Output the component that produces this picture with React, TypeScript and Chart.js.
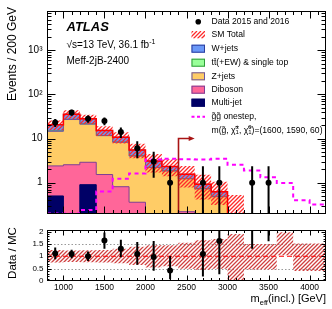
import React, { useEffect, useRef } from 'react';
import { Chart, registerables } from 'chart.js';

Chart.register(...registerables);

// ---------------- data ----------------
const binEdges = [800, 1000, 1200, 1400, 1600, 1800, 2000, 2200, 2400, 2600, 2800, 3000, 3200, 3400, 3600, 3800, 4000, 4200];

const dataCounts = [23, 39, 28, 25, 14, 6, 3, 1, 0, 1, 1, 0, 1, 1, 0, 0, 0];
const dataErrDown = [4.8, 6.2, 5.3, 5.0, 3.7, 2.4, 1.7, 0.83, 0, 0.83, 0.83, 0, 0.83, 0.83, 0, 0, 0];
const dataErrUp = [4.8, 6.2, 5.3, 5.0, 3.8, 2.7, 2.0, 1.36, 0, 1.36, 1.36, 0, 1.36, 1.36, 0, 0, 0];

const wJets = [5.8, 8.4, 6.6, 3.6, 2.4, 1.45, 0.88, 0.48, 0.32, 0.19, 0.13, 0, 0, 0, 0, 0, 0];
const ttbarSingleTop = [0.2, 0.3, 0.2, 0.1, 0.1, 0.05, 0.02, 0.02, 0.01, 0.01, 0.01, 0, 0, 0, 0, 0, 0];
const zJets = [12.2, 24.45, 18.3, 10.1, 7.4, 3.64, 2.1, 1.73, 1.0, 0.67, 0.48, 0, 0, 0, 0, 0, 0];
const diboson = [1.9, 2.55, 2.0, 1.53, 0.81, 0.36, 0.1, 0.1, 0.22, 0.05, 0, 0, 0, 0, 0, 0, 0];
const multiJet = [0.5, 0, 0.9, 0, 0, 0, 0, 0, 0, 0, 0, 0, 0, 0, 0, 0, 0];
const smTotal = [20.6, 35.7, 28.0, 15.3, 10.7, 5.5, 3.1, 2.33, 1.55, 0.92, 0.62, 0.18, 0.13, 0.106, 0.08, 0.06, 0.05];

const ratioBandLow = [0.75, 0.77, 0.76, 0.75, 0.72, 0.65, 0.55, 0.6, 0.5, 0.45, 0.5, 0.03, 0.47, 0.47, 1.04, 0.4, 0.4];
const ratioBandHigh = [1.25, 1.23, 1.24, 1.25, 1.3, 1.38, 1.45, 1.45, 1.55, 1.65, 1.7, 1.9, 1.5, 1.5, 1.97, 1.52, 1.52];
const mainBandHigh = [1.25, 1.23, 1.24, 1.25, 1.3, 1.38, 1.45, 1.45, 1.55, 1.65, 1.7, 2.9, 1.5, 1.5, 1.97, 1.52, 1.52];

const signalOnestep = [0.2, 0.2, 0.24, 0.63, 1.22, 1.61, 3.36, 3.5, 3.4, 3.36, 3.5, 2.54, 1.89, 1.32, 0.98, 0.4, 0.32];

const xTickValues = [1000, 1500, 2000, 2500, 3000, 3500, 4000];
const yMainTickValues = [1, 10, 100, 1000];
const yMainTickLabels = ['1', '10', '10\u00B2', '10\u00B3'];
const yRatioTickValues = [0, 0.5, 1, 1.5, 2];
const yRatioTickLabels = ['0', '0.5', '1', '1.5', '2'];

const cutValue = 2400;
const arrowEnd = 2600;
const arrowHeight = 10.5;

// ---------------- style ----------------
const FONT = '"Liberation Sans", Arial, Helvetica, sans-serif';
const C = {
  w: '#6a98f8', wB: '#2c3d9c',
  tt: '#99ff99', ttB: '#2f9a3a',
  z: '#ffcc66', zB: '#6b56a0',
  db: '#ff6699', dbB: '#7d3f96',
  mj: '#000066', mjB: '#000066',
  sm: '#ff0000', sig: '#ff00ff', arrow: '#a81414',
  hatchMain: '#ff2a2a', hatchRatio: '#d04040',
};
const LOG_FLOOR = 1e-3;
const X_MIN = binEdges[0];
const X_MAX = binEdges[binEdges.length - 1];
const Y_MIN = 0.2;
const Y_MAX = 8000;

function stepPoints(vals: number[], floor = 0) {
  const pts = vals.map((v, i) => ({ x: binEdges[i], y: Math.max(v, floor) }));
  pts.push({ x: binEdges[vals.length], y: Math.max(vals[vals.length - 1], floor) });
  return pts;
}
const centers = binEdges.slice(0, -1).map((e, i) => (e + binEdges[i + 1]) / 2);

// diagonal '/' hatch lines inside the current clip
function strokeHatch(ctx: CanvasRenderingContext2D, l: number, t: number, r: number, b: number, color: string, spacing: number) {
  ctx.strokeStyle = color; ctx.lineWidth = 1.3; ctx.setLineDash([]);
  ctx.beginPath();
  for (let c = Math.floor((l + t) / spacing) * spacing; c <= r + b + spacing; c += spacing) {
    ctx.moveTo(c - b, b); ctx.lineTo(c - t, t);
  }
  ctx.stroke();
}

function drawHatchBand(chart: any, low: number[], high: number[], color: string, spacing: number) {
  const { ctx, chartArea: a } = chart;
  const xs = chart.scales.x, ys = chart.scales.y;
  ctx.save();
  ctx.beginPath(); ctx.rect(a.left, a.top, a.width, a.height); ctx.clip();
  ctx.beginPath();
  for (let i = 0; i < low.length; i++) {
    const x0 = xs.getPixelForValue(binEdges[i]), x1 = xs.getPixelForValue(binEdges[i + 1]);
    const yT = high[i] > 0 ? Math.max(ys.getPixelForValue(high[i]), a.top - 5) : a.bottom + 5;
    const yB = low[i] > 0 ? Math.min(ys.getPixelForValue(low[i]), a.bottom + 5) : a.bottom + 5;
    if (yB > yT) ctx.rect(x0, yT, x1 - x0, yB - yT);
  }
  ctx.clip();
  strokeHatch(ctx, a.left, a.top, a.right, a.bottom, color, spacing);
  ctx.restore();
}

function xTickList(major: number, minor: number): [number, number][] {
  const out: [number, number][] = [];
  for (let v = X_MIN; v <= X_MAX; v += 100) out.push([v, v % 500 === 0 ? major : minor]);
  return out;
}

function drawFrameTicks(chart: any, xTicks: [number, number][], yTicks: [number, number][]) {
  const { ctx, chartArea: a } = chart;
  const xs = chart.scales.x, ys = chart.scales.y;
  const L = Math.round(a.left) + 0.5, R = Math.round(a.right) - 0.5;
  const T = Math.round(a.top) + 0.5, B = Math.round(a.bottom) - 0.5;
  ctx.save();
  ctx.strokeStyle = '#000'; ctx.lineWidth = 1; ctx.setLineDash([]);
  ctx.beginPath();
  for (const [v, len] of xTicks) {
    const p = Math.round(xs.getPixelForValue(v)) + 0.5;
    if (p < L - 0.1 || p > R + 0.1) continue;
    ctx.moveTo(p, B); ctx.lineTo(p, B - len);
    ctx.moveTo(p, T); ctx.lineTo(p, T + len);
  }
  for (const [v, len] of yTicks) {
    const p = Math.round(ys.getPixelForValue(v)) + 0.5;
    if (p < T - 0.1 || p > B + 0.1) continue;
    ctx.moveTo(L, p); ctx.lineTo(L + len, p);
    ctx.moveTo(R, p); ctx.lineTo(R - len, p);
  }
  ctx.stroke();
  ctx.strokeRect(L, T, R - L, B - T);
  ctx.restore();
}

function drawErrorBars(chart: any, bars: { x: number; lo: number; hi: number }[]) {
  const { ctx, chartArea: a } = chart;
  const xs = chart.scales.x, ys = chart.scales.y;
  ctx.save();
  ctx.beginPath(); ctx.rect(a.left, a.top, a.width, a.height); ctx.clip();
  ctx.strokeStyle = '#000'; ctx.lineWidth = 2;
  for (const b of bars) {
    const px = xs.getPixelForValue(b.x);
    const y1 = b.lo > 0 ? ys.getPixelForValue(b.lo) : a.bottom + 5;
    const y2 = ys.getPixelForValue(b.hi);
    ctx.beginPath(); ctx.moveTo(px, Math.min(y1, a.bottom + 5)); ctx.lineTo(px, Math.max(y2, a.top - 5)); ctx.stroke();
  }
  ctx.restore();
}

type Run = { t?: string; size: number; style?: string; dy?: number; stack?: [string, string] };
function drawRuns(ctx: CanvasRenderingContext2D, x: number, y: number, runs: Run[]) {
  let cx = x;
  for (const r of runs) {
    ctx.font = `${r.style ?? ''} ${r.size}px ${FONT}`;
    if (r.stack) {
      const w1 = ctx.measureText(r.stack[0]).width, w2 = ctx.measureText(r.stack[1]).width;
      ctx.fillText(r.stack[0], cx, y - r.size * 0.55);
      ctx.fillText(r.stack[1], cx, y + r.size * 0.35);
      cx += Math.max(w1, w2);
    } else {
      ctx.fillText(r.t!, cx, y + (r.dy ?? 0));
      cx += ctx.measureText(r.t!).width;
    }
  }
}

function drawLegend(ctx: CanvasRenderingContext2D) {
  const tx = 211.5, bx = 191.5, bw = 13.5, bh = 8;
  const fs = 8.6;
  ctx.save();
  ctx.textBaseline = 'middle'; ctx.fillStyle = '#000';
  ctx.font = `${fs}px ${FONT}`;
  // Data
  ctx.beginPath(); ctx.arc(bx + bw / 2, 21.7, 2.8, 0, Math.PI * 2); ctx.fill();
  ctx.fillText('Data 2015 and 2016', tx, 21.7);
  // SM total (hatched)
  ctx.save();
  ctx.beginPath(); ctx.rect(bx, 31, bw, 7.5); ctx.clip();
  strokeHatch(ctx, bx, 31, bx + bw, 38.5, C.hatchMain, 4);
  ctx.restore();
  ctx.fillStyle = '#000';
  ctx.font = `${fs}px ${FONT}`;
  ctx.fillText('SM Total', tx, 34.7);
  const boxes: [string, string, string, number][] = [
    [C.w, C.wB, 'W+jets', 48.7],
    [C.tt, C.ttB, 'tt', 62.7],
    [C.z, C.zB, 'Z+jets', 76.3],
    [C.db, C.dbB, 'Diboson', 89.7],
    [C.mj, C.mjB, 'Multi-jet', 102.7],
  ];
  for (const [f, b, label, y] of boxes) {
    ctx.fillStyle = f; ctx.fillRect(bx, y - bh / 2, bw, bh);
    ctx.strokeStyle = b; ctx.lineWidth = 1; ctx.strokeRect(bx + 0.5, y - bh / 2 + 0.5, bw - 1, bh - 1);
    ctx.fillStyle = '#000';
    if (label === 'tt') {
      drawRuns(ctx, tx, y, [{ t: 't', size: fs }, { t: 't\u0304', size: fs }, { t: '(+EW) & single top', size: fs }]);
    } else { ctx.font = `${fs}px ${FONT}`; ctx.fillText(label, tx, y); }
  }
  // signal
  ctx.strokeStyle = C.sig; ctx.lineWidth = 2; ctx.setLineDash([3, 2.5]);
  ctx.beginPath(); ctx.moveTo(bx, 116.7); ctx.lineTo(bx + bw, 116.7); ctx.stroke();
  ctx.setLineDash([]);
  ctx.fillStyle = '#000';
  drawRuns(ctx, tx, 116.7, [{ t: 'g\u0303g\u0303 onestep,', size: fs }]);
  drawRuns(ctx, tx, 130.7, [
    { t: 'm(g\u0303, \u03C7\u0303', size: fs },
    { size: fs * 0.7, stack: ['\u00B1', '1'] },
    { t: ', \u03C7\u0303', size: fs },
    { size: fs * 0.7, stack: ['0', '1'] },
    { t: ')=(1600, 1590, 60)', size: fs },
  ]);
  ctx.restore();
}

export default function App() {
  const mainRef = useRef<HTMLCanvasElement>(null);
  const ratioRef = useRef<HTMLCanvasElement>(null);

  useEffect(() => {
    const mainCanvas = mainRef.current!;
    const ratioCanvas = ratioRef.current!;

    // cumulative stack (bottom -> top)
    const layers = [multiJet, diboson, zJets, ttbarSingleTop, wJets];
    const cum: number[][] = [];
    layers.forEach((l, k) => cum.push(l.map((v, i) => v + (k > 0 ? cum[k - 1][i] : 0))));
    const stackStyle = [
      [C.mj, C.mjB], [C.db, C.dbB], [C.z, C.zB], [C.tt, C.ttB], [C.w, C.wB],
    ];

    const stackDatasets = cum.map((vals, k) => ({
      type: 'line' as const,
      data: stepPoints(vals, LOG_FLOOR),
      stepped: true,
      fill: 'start',
      backgroundColor: stackStyle[k][0],
      borderColor: stackStyle[k][1],
      borderWidth: 1,
      pointRadius: 0,
      order: 16 + k,
    }));

    const bandHi = smTotal.map((v, i) => v * mainBandHigh[i]);
    const bandLo = smTotal.map((v, i) => v * ratioBandLow[i]);

    const dataPts = centers.map((x, i) => ({ x, y: dataCounts[i] })).filter((p) => p.y > 0);
    const mainBars = centers
      .map((x, i) => ({ x, lo: dataCounts[i] - dataErrDown[i], hi: dataCounts[i] + dataErrUp[i], n: dataCounts[i] }))
      .filter((b) => b.n > 0);

    const yMinor: [number, number][] = [];
    for (let d = -1; d <= 3; d++) {
      for (let k = 1; k <= 9; k++) {
        const v = k * Math.pow(10, d);
        if (v >= Y_MIN && v <= Y_MAX) yMinor.push([v, k === 1 ? 8 : 4]);
      }
    }

    const SM_INDEX = stackDatasets.length;

    const mainPlugin = {
      id: 'mainDecor',
      beforeDatasetDraw(chart: any, args: any) {
        if (args.index === SM_INDEX) drawHatchBand(chart, bandLo, bandHi, C.hatchMain, 4);
      },
      afterDatasetsDraw(chart: any) {
        drawErrorBars(chart, mainBars);
        const { ctx } = chart;
        const xs = chart.scales.x, ys = chart.scales.y;
        const px = Math.round(xs.getPixelForValue(cutValue)) + 0.5;
        const py = Math.round(ys.getPixelForValue(arrowHeight)) + 0.5;
        const pe = xs.getPixelForValue(arrowEnd);
        ctx.save();
        ctx.strokeStyle = C.arrow; ctx.fillStyle = C.arrow; ctx.lineWidth = 1.6;
        ctx.beginPath(); ctx.moveTo(px, chart.chartArea.bottom); ctx.lineTo(px, py); ctx.lineTo(pe - 4, py); ctx.stroke();
        ctx.beginPath(); ctx.moveTo(pe, py); ctx.lineTo(pe - 6, py - 2.6); ctx.lineTo(pe - 6, py + 2.6); ctx.closePath(); ctx.fill();
        ctx.restore();
      },
      afterDraw(chart: any) {
        const { ctx } = chart;
        drawFrameTicks(chart, xTickList(7, 3.5), yMinor);
        drawLegend(ctx);
        ctx.save();
        ctx.fillStyle = '#000'; ctx.textBaseline = 'alphabetic';
        ctx.font = `italic bold 13px ${FONT}`;
        ctx.fillText('ATLAS', 66.5, 30.5);
        drawRuns(ctx, 66.5, 48, [
          { t: '\u221As=13 TeV, 36.1 fb', size: 10 },
          { t: '-1', size: 7, dy: -4.5 },
        ]);
        ctx.font = `10px ${FONT}`;
        ctx.fillText('Meff-2jB-2400', 66.5, 63.5);
        ctx.translate(12.5, 7);
        ctx.rotate(-Math.PI / 2);
        ctx.textAlign = 'right'; ctx.textBaseline = 'middle';
        ctx.font = `12px ${FONT}`;
        ctx.fillText('Events / 200 GeV', 0, 0);
        ctx.restore();
      },
    };

    const main = new Chart(mainCanvas, {
      type: 'line',
      data: {
        datasets: [
          ...stackDatasets,
          {
            type: 'line', data: stepPoints(smTotal, LOG_FLOOR), stepped: true, fill: false,
            borderColor: C.sm, borderWidth: 1.5, pointRadius: 0, order: 5,
          },
          {
            type: 'line', data: stepPoints(signalOnestep, LOG_FLOOR), stepped: true, fill: false,
            borderColor: C.sig, borderWidth: 2, borderDash: [4, 3.5], pointRadius: 0, order: 4,
          },
          {
            type: 'scatter', data: dataPts, pointRadius: 3, pointBackgroundColor: '#000', pointBorderWidth: 0,
            borderColor: '#000', showLine: false, order: 1,
          },
        ] as any,
      },
      options: {
        animation: false,
        responsive: false,
        maintainAspectRatio: false,
        layout: { padding: { left: 0, right: 6, top: 5, bottom: 2 } },
        plugins: { legend: { display: false }, tooltip: { enabled: false } },
        scales: {
          x: { type: 'linear', min: X_MIN, max: X_MAX, display: false },
          y: {
            type: 'logarithmic', min: Y_MIN, max: Y_MAX,
            grid: { display: false, drawTicks: false }, border: { display: false },
            afterFit: (s: any) => { s.width = 47; },
            afterBuildTicks: (s: any) => { s.ticks = yMainTickValues.map((v) => ({ value: v })); },
            ticks: {
              autoSkip: false, padding: 4.5, color: '#000', font: { family: FONT, size: 10 },
              callback: (v: any) => { const i = yMainTickValues.indexOf(Number(v)); return i >= 0 ? yMainTickLabels[i] : ''; },
            },
          },
        },
      } as any,
      plugins: [mainPlugin],
    });

    // ---------------- ratio panel ----------------
    const ratioPts = centers.map((x, i) => ({ x, y: dataCounts[i] / smTotal[i], n: dataCounts[i] })).filter((p) => p.n > 0).map(({ x, y }) => ({ x, y }));
    const ratioBars = centers
      .map((x, i) => ({ x, lo: (dataCounts[i] - dataErrDown[i]) / smTotal[i], hi: (dataCounts[i] + dataErrUp[i]) / smTotal[i], n: dataCounts[i] }))
      .filter((b) => b.n > 0);
    const rYTicks: [number, number][] = [];
    for (let k = 0; k <= 20; k++) rYTicks.push([k / 10, k % 5 === 0 ? 4 : 2]);

    const ratioPlugin = {
      id: 'ratioDecor',
      beforeDatasetsDraw(chart: any) {
        const { ctx, chartArea: a } = chart;
        const ys = chart.scales.y;
        ctx.save();
        ctx.strokeStyle = '#999'; ctx.lineWidth = 1; ctx.setLineDash([1.5, 2]);
        for (const v of [0.5, 1.5]) {
          const p = Math.round(ys.getPixelForValue(v)) + 0.5;
          ctx.beginPath(); ctx.moveTo(a.left, p); ctx.lineTo(a.right, p); ctx.stroke();
        }
        ctx.restore();
        drawHatchBand(chart, ratioBandLow, ratioBandHigh, C.hatchRatio, 4);
      },
      afterDatasetsDraw(chart: any) { drawErrorBars(chart, ratioBars); },
      afterDraw(chart: any) {
        const { ctx } = chart;
        drawFrameTicks(chart, xTickList(5, 2.5), rYTicks);
        ctx.save();
        ctx.fillStyle = '#000';
        ctx.translate(12.5, 31);
        ctx.rotate(-Math.PI / 2);
        ctx.textAlign = 'center'; ctx.textBaseline = 'middle';
        ctx.font = `11.5px ${FONT}`;
        ctx.fillText('Data / MC', 0, 0);
        ctx.restore();
        ctx.save();
        ctx.fillStyle = '#000'; ctx.textBaseline = 'alphabetic';
        const runs: Run[] = [
          { t: 'm', size: 11 },
          { t: 'eff', size: 7.5, dy: 2.5 },
          { t: '(incl.) [GeV]', size: 11 },
        ];
        let w = 0;
        for (const r of runs) { ctx.font = `${r.size}px ${FONT}`; w += ctx.measureText(r.t!).width; }
        drawRuns(ctx, 326 - w, 80, runs);
        ctx.restore();
      },
    };

    const ratio = new Chart(ratioCanvas, {
      type: 'line',
      data: {
        datasets: [
          {
            type: 'line', data: [{ x: X_MIN, y: 1 }, { x: X_MAX, y: 1 }], fill: false,
            borderColor: '#ff0000', borderWidth: 1.2, borderDash: [5, 3], pointRadius: 0, order: 5,
          },
          {
            type: 'scatter', data: ratioPts, pointRadius: 3, pointBackgroundColor: '#000', pointBorderWidth: 0,
            borderColor: '#000', showLine: false, order: 1,
          },
        ] as any,
      },
      options: {
        animation: false,
        responsive: false,
        maintainAspectRatio: false,
        layout: { padding: { left: 0, right: 6, top: 4, bottom: 0 } },
        plugins: { legend: { display: false }, tooltip: { enabled: false } },
        scales: {
          x: {
            type: 'linear', min: X_MIN, max: X_MAX,
            grid: { display: false, drawTicks: false }, border: { display: false },
            afterFit: (s: any) => { s.height = 28; },
            afterBuildTicks: (s: any) => { s.ticks = xTickValues.map((v) => ({ value: v })); },
            ticks: { autoSkip: false, maxRotation: 0, padding: 2, color: '#000', font: { family: FONT, size: 8.5 }, callback: (v: any) => String(v) },
          },
          y: {
            type: 'linear', min: 0, max: 2.05,
            grid: { display: false, drawTicks: false }, border: { display: false },
            afterFit: (s: any) => { s.width = 47; },
            afterBuildTicks: (s: any) => { s.ticks = yRatioTickValues.map((v) => ({ value: v })); },
            ticks: {
              autoSkip: false, padding: 3.5, color: '#000', font: { family: FONT, size: 8 },
              callback: (v: any) => { const i = yRatioTickValues.indexOf(Number(v)); return i >= 0 ? yRatioTickLabels[i] : ''; },
            },
          },
        },
      } as any,
      plugins: [ratioPlugin],
    });

    return () => { main.destroy(); ratio.destroy(); };
  }, []);

  return (
    <div style={{ position: 'fixed', left: 0, top: 0, width: 332, height: 309, background: '#fff' }}>
      <canvas ref={mainRef} width={332} height={224} style={{ position: 'absolute', left: 0, top: 0, width: 332, height: 224 }} />
      <canvas ref={ratioRef} width={332} height={87} style={{ position: 'absolute', left: 0, top: 222, width: 332, height: 87 }} />
    </div>
  );
}
